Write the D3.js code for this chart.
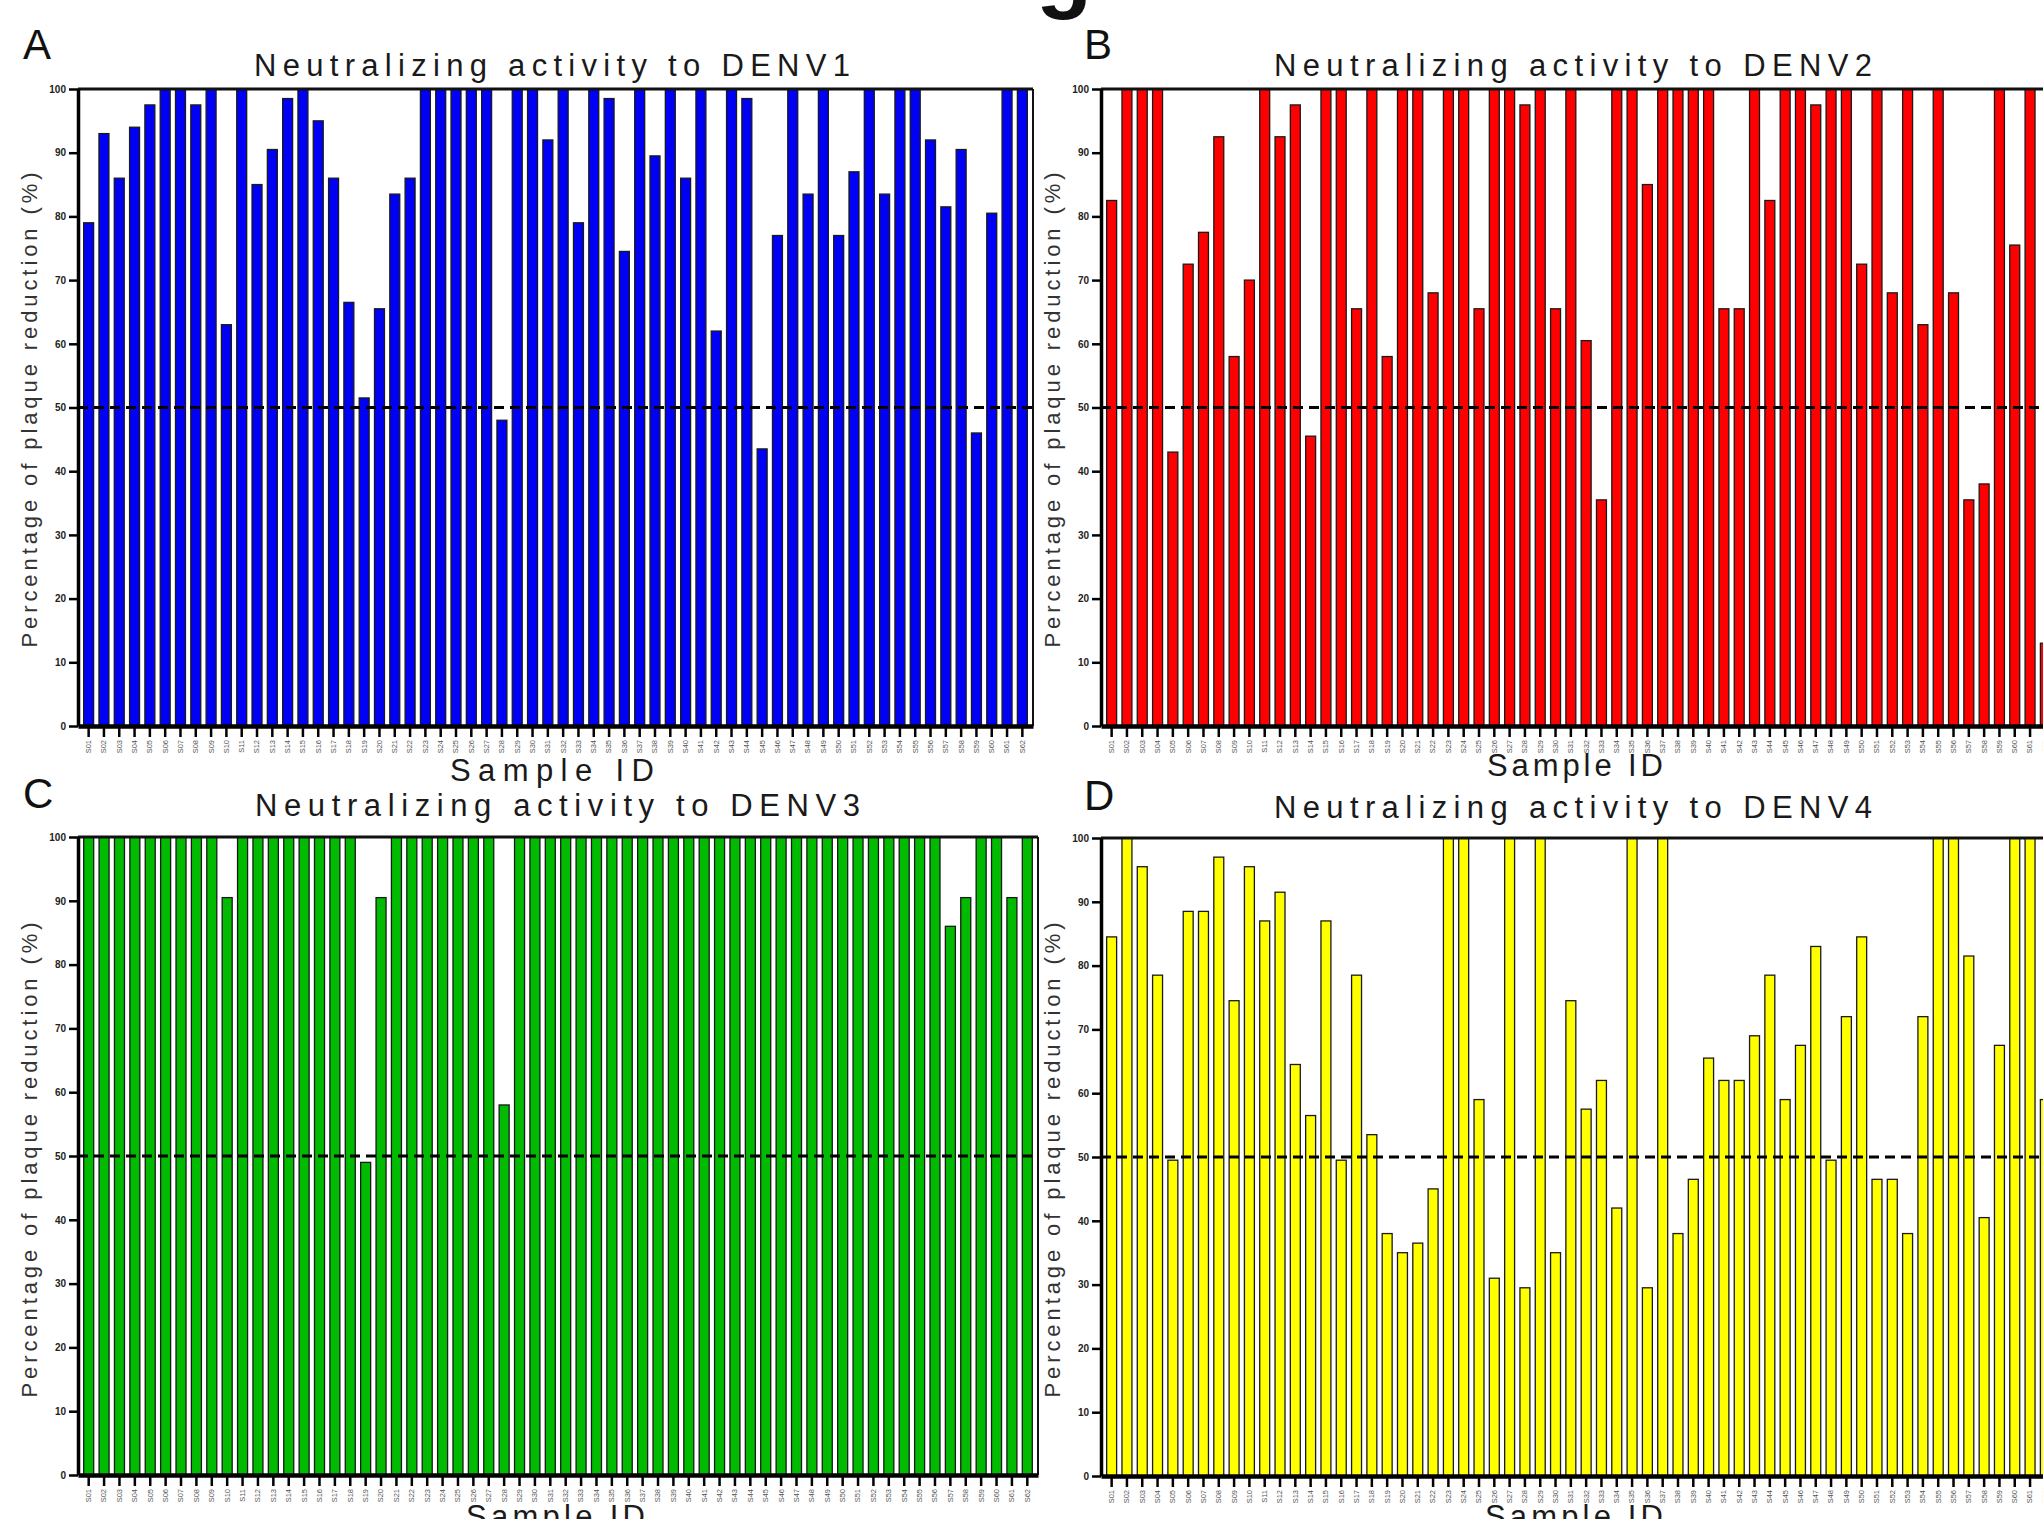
<!DOCTYPE html>
<html>
<head>
<meta charset="utf-8">
<script src="https://cdn.jsdelivr.net/npm/d3@7"></script>
<style>
  html, body { margin: 0; padding: 0; background: #fff; overflow: hidden; }
  svg { display: block; font-family: "Liberation Sans", Arial, sans-serif; }
</style>
</head>
<body>
<svg id="chart" width="2043" height="1519"></svg>
<script>
// sample ids on the x axis
var sampleIds = ["S01","S02","S03","S04","S05","S06","S07","S08","S09","S10",
  "S11","S12","S13","S14","S15","S16","S17","S18","S19","S20",
  "S21","S22","S23","S24","S25","S26","S27","S28","S29","S30",
  "S31","S32","S33","S34","S35","S36","S37","S38","S39","S40",
  "S41","S42","S43","S44","S45","S46","S47","S48","S49","S50",
  "S51","S52","S53","S54","S55","S56","S57","S58","S59","S60",
  "S61","S62"];

// percentage of plaque reduction, one value per sample
var denv1 = [79, 93, 86, 94, 97.5, 100, 100, 97.5, 100, 63,
  100, 85, 90.5, 98.5, 100, 95, 86, 66.5, 51.5, 65.5,
  83.5, 86, 100, 100, 100, 100, 100, 48, 100, 100,
  92, 100, 79, 100, 98.5, 74.5, 100, 89.5, 100, 86,
  100, 62, 100, 98.5, 43.5, 77, 100, 83.5, 100, 77,
  87, 100, 83.5, 100, 100, 92, 81.5, 90.5, 46, 80.5,
  100, 100];

var denv2 = [82.5, 100, 100, 100, 43, 72.5, 77.5, 92.5, 58, 70,
  100, 92.5, 97.5, 45.5, 100, 100, 65.5, 100, 58, 100,
  100, 68, 100, 100, 65.5, 100, 100, 97.5, 100, 65.5,
  100, 60.5, 35.5, 100, 100, 85, 100, 100, 100, 100,
  65.5, 65.5, 100, 82.5, 100, 100, 97.5, 100, 100, 72.5,
  100, 68, 100, 63, 100, 68, 35.5, 38, 100, 75.5,
  100, 13];

var denv3 = [100, 100, 100, 100, 100, 100, 100, 100, 100, 90.5,
  100, 100, 100, 100, 100, 100, 100, 100, 49, 90.5,
  100, 100, 100, 100, 100, 100, 100, 58, 100, 100,
  100, 100, 100, 100, 100, 100, 100, 100, 100, 100,
  100, 100, 100, 100, 100, 100, 100, 100, 100, 100,
  100, 100, 100, 100, 100, 100, 86, 90.5, 100, 100,
  90.5, 100];

var denv4 = [84.5, 100, 95.5, 78.5, 49.5, 88.5, 88.5, 97, 74.5, 95.5,
  87, 91.5, 64.5, 56.5, 87, 49.5, 78.5, 53.5, 38, 35,
  36.5, 45, 100, 100, 59, 31, 100, 29.5, 100, 35,
  74.5, 57.5, 62, 42, 100, 29.5, 100, 38, 46.5, 65.5,
  62, 62, 69, 78.5, 59, 67.5, 83, 49.5, 72, 84.5,
  46.5, 46.5, 38, 72, 100, 100, 81.5, 40.5, 67.5, 100,
  100, 59];

var yTicks = [0, 10, 20, 30, 40, 50, 60, 70, 80, 90, 100];
var threshold = 50;

var panels = [
  { letter: "A", title: "Neutralizing activity to DENV1", values: denv1, color: "#0000f5",
    left: 78, right: 1033, top: 89, bottom: 726,
    letterX: 23, letterY: 59, titleX: 254, titleW: 596, titleY: 76,
    yLabX: 37, yLabY: 410, xLabX: 450, xLabW: 204, xLabY: 781 },
  { letter: "B", title: "Neutralizing activity to DENV2", values: denv2, color: "#ff0000",
    left: 1101, right: 2056, top: 89, bottom: 726,
    letterX: 1084, letterY: 59, titleX: 1274, titleW: 598, titleY: 76,
    yLabX: 1060, yLabY: 410, xLabX: 1487, xLabW: 176, xLabY: 776 },
  { letter: "C", title: "Neutralizing activity to DENV3", values: denv3, color: "#00bb00",
    left: 78, right: 1038, top: 837, bottom: 1475,
    letterX: 23, letterY: 808, titleX: 255, titleW: 605, titleY: 816,
    yLabX: 37, yLabY: 1160, xLabX: 466, xLabW: 179, xLabY: 1527 },
  { letter: "D", title: "Neutralizing activity to DENV4", values: denv4, color: "#ffff00",
    left: 1101, right: 2056, top: 838, bottom: 1476,
    letterX: 1084, letterY: 810, titleX: 1274, titleW: 598, titleY: 818,
    yLabX: 1060, yLabY: 1160, xLabX: 1485, xLabW: 178, xLabY: 1527 }
];

var svg = d3.select("#chart");

// bottom of a big caption glyph cut off at the top of the figure
svg.append("text")
  .attr("x", 1036).attr("y", 1)
  .attr("font-size", 92).attr("font-weight", "bold")
  .attr("fill", "#111")
  .text("g");

panels.forEach(function(p) {
  var g = svg.append("g");

  var x = d3.scaleBand()
    .domain(sampleIds)
    .range([p.left, p.right])
    .paddingInner(0.35)
    .paddingOuter(0.37);

  var y = d3.scaleLinear()
    .domain([0, 100])
    .range([p.bottom, p.top]);

  // bars
  g.selectAll("rect.bar")
    .data(p.values)
    .enter()
    .append("rect")
    .attr("class", "bar")
    .attr("x", function(d, i) { return x(sampleIds[i]); })
    .attr("width", x.bandwidth())
    .attr("y", function(d) { return y(d); })
    .attr("height", function(d) { return y(0) - y(d); })
    .attr("fill", p.color)
    .attr("stroke", "#1a1a1a")
    .attr("stroke-width", 1.3);

  // 50% line
  g.append("line")
    .attr("x1", p.left).attr("x2", p.right)
    .attr("y1", y(threshold)).attr("y2", y(threshold))
    .attr("stroke", "#000")
    .attr("stroke-width", 3)
    .attr("stroke-dasharray", "10,6");

  // frame top and right
  g.append("line")
    .attr("x1", p.left).attr("x2", p.right)
    .attr("y1", y(100)).attr("y2", y(100))
    .attr("stroke", "#111").attr("stroke-width", 3);
  g.append("line")
    .attr("x1", p.right).attr("x2", p.right)
    .attr("y1", y(100)).attr("y2", y(0))
    .attr("stroke", "#111").attr("stroke-width", 2);

  // y axis
  var yAxis = g.append("g")
    .attr("transform", "translate(" + p.left + ",0)")
    .call(d3.axisLeft(y).tickValues(yTicks).tickSize(9).tickPadding(3).tickSizeOuter(0));
  yAxis.select(".domain").attr("stroke", "#000").attr("stroke-width", 3.5);
  yAxis.selectAll(".tick line").attr("stroke", "#000").attr("stroke-width", 2.5);
  yAxis.selectAll(".tick text")
    .attr("font-size", 10).attr("font-weight", "bold").attr("fill", "#222")
    .attr("font-family", "Liberation Sans, Arial, sans-serif");

  // x axis
  var xAxis = g.append("g")
    .attr("transform", "translate(0," + p.bottom + ")")
    .call(d3.axisBottom(x).tickSize(11).tickSizeOuter(0));
  xAxis.select(".domain").attr("stroke", "#000").attr("stroke-width", 4.5);
  xAxis.selectAll(".tick line").attr("stroke", "#000").attr("stroke-width", 2.5);
  xAxis.selectAll(".tick text")
    .attr("transform", "rotate(-90)")
    .attr("x", -14).attr("y", 0).attr("dy", "0.32em")
    .attr("text-anchor", "end")
    .attr("font-size", 7.5).attr("fill", "#555")
    .attr("font-family", "Liberation Sans, Arial, sans-serif");

  // panel letter
  g.append("text")
    .attr("x", p.letterX).attr("y", p.letterY)
    .attr("font-size", 42).attr("fill", "#111")
    .text(p.letter);

  // title
  g.append("text")
    .attr("x", p.titleX).attr("y", p.titleY)
    .attr("font-size", 31).attr("fill", "#1a1a1a")
    .attr("textLength", p.titleW).attr("lengthAdjust", "spacing")
    .text(p.title);

  // y axis title
  g.append("text")
    .attr("transform", "translate(" + p.yLabX + "," + p.yLabY + ") rotate(-90)")
    .attr("text-anchor", "middle")
    .attr("font-size", 22).attr("fill", "#333")
    .attr("textLength", 475).attr("lengthAdjust", "spacing")
    .text("Percentage of plaque reduction (%)");

  // x axis title
  g.append("text")
    .attr("x", p.xLabX).attr("y", p.xLabY)
    .attr("font-size", 31).attr("fill", "#1a1a1a")
    .attr("textLength", p.xLabW).attr("lengthAdjust", "spacing")
    .text("Sample ID");
});
</script>
</body>
</html>
